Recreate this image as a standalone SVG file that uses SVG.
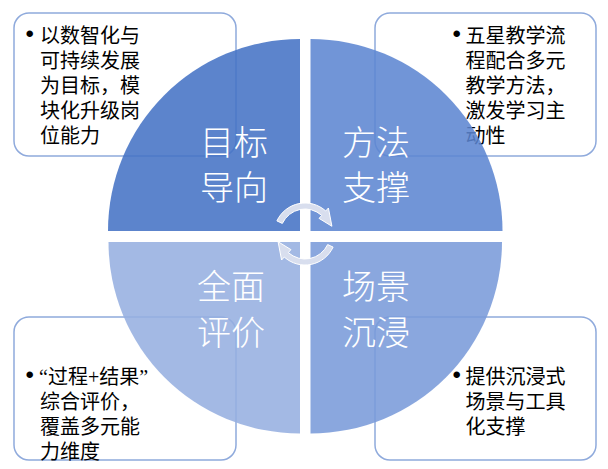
<svg xmlns="http://www.w3.org/2000/svg" width="608" height="469" viewBox="0 0 608 469">
<style>
.box{fill:#fff;stroke:#8faadc;stroke-width:1.5}
.t{font-family:"Liberation Serif","Noto Sans CJK SC",serif;font-size:20px;fill:#000}
.b{font-family:"Liberation Sans",sans-serif;font-size:24px;fill:#000}
.q{opacity:0.87}
.lbl{font-family:"Noto Sans CJK SC",sans-serif;font-weight:300;font-size:34px;fill:#fff}
.arr{fill:#d8deee;stroke:#fff;stroke-width:1}
</style>
<g id="box-tl">
<rect class="box" x="14" y="13" width="222" height="143" rx="15"/>
<text class="b" x="25.5" y="42">•</text>
<text class="t"><tspan x="40" y="43">以数智化与</tspan><tspan x="40" y="68">可持续发展</tspan><tspan x="40" y="93">为目标，模</tspan><tspan x="40" y="118">块化升级岗</tspan><tspan x="40" y="143">位能力</tspan></text>
</g>
<g id="box-tr">
<rect class="box" x="375" y="13" width="221" height="143" rx="15"/>
<text class="b" x="452.5" y="42">•</text>
<text class="t"><tspan x="465.5" y="43">五星教学流</tspan><tspan x="465.5" y="68">程配合多元</tspan><tspan x="465.5" y="93">教学方法，</tspan><tspan x="465.5" y="118">激发学习主</tspan><tspan x="465.5" y="143">动性</tspan></text>
</g>
<g id="box-bl">
<rect class="box" x="14" y="317" width="222" height="143" rx="15"/>
<text class="b" x="25.5" y="383">•</text>
<text class="t"><tspan x="39" y="384">“过程+结果”</tspan><tspan x="40" y="409">综合评价，</tspan><tspan x="40" y="434">覆盖多元能</tspan><tspan x="40" y="459">力维度</tspan></text>
</g>
<g id="box-br">
<rect class="box" x="375" y="317" width="221" height="143" rx="15"/>
<text class="b" x="452.5" y="383">•</text>
<text class="t"><tspan x="465.5" y="384">提供沉浸式</tspan><tspan x="465.5" y="409">场景与工具</tspan><tspan x="465.5" y="434">化支撑</tspan></text>
</g>
<g id="q-tl">
<path class="q" fill="#4472c4" d="M300,231 L108,231 A192,192 0 0 1 300,39 Z"/>
<text class="lbl"><tspan x="200" y="155">目标</tspan><tspan x="200" y="200">导向</tspan></text>
</g>
<g id="q-tr">
<path class="q" fill="#5c85d1" d="M310.5,231 L310.5,39 A192,192 0 0 1 502.5,231 Z"/>
<text class="lbl"><tspan x="342" y="155">方法</tspan><tspan x="342" y="200">支撑</tspan></text>
</g>
<g id="q-bl">
<path class="q" fill="#95afe0" d="M300,242 L300,433.5 A191.5,191.5 0 0 1 108.5,242 Z"/>
<text class="lbl"><tspan x="197" y="299">全面</tspan><tspan x="197" y="345">评价</tspan></text>
</g>
<g id="q-br">
<path class="q" fill="#799ad9" d="M310.5,242 L502,242 A191.5,191.5 0 0 1 310.5,433.5 Z"/>
<text class="lbl"><tspan x="342" y="299">场景</tspan><tspan x="342" y="345">沉浸</tspan></text>
</g>
<g id="connectors">
<path class="arr" d="M276.90,220.90 A31,31 0 0 1 325.74,210.96 L328.42,207.99 L331.92,226.28 L319.05,218.39 L321.73,215.42 A25,25 0 0 0 282.34,223.43 Z"/>
<path class="arr" d="M333.10,247.10 A31,31 0 0 1 284.26,257.04 L281.58,260.01 L278.08,241.72 L290.95,249.61 L288.27,252.58 A25,25 0 0 0 327.66,244.57 Z"/>
</g>
</svg>
